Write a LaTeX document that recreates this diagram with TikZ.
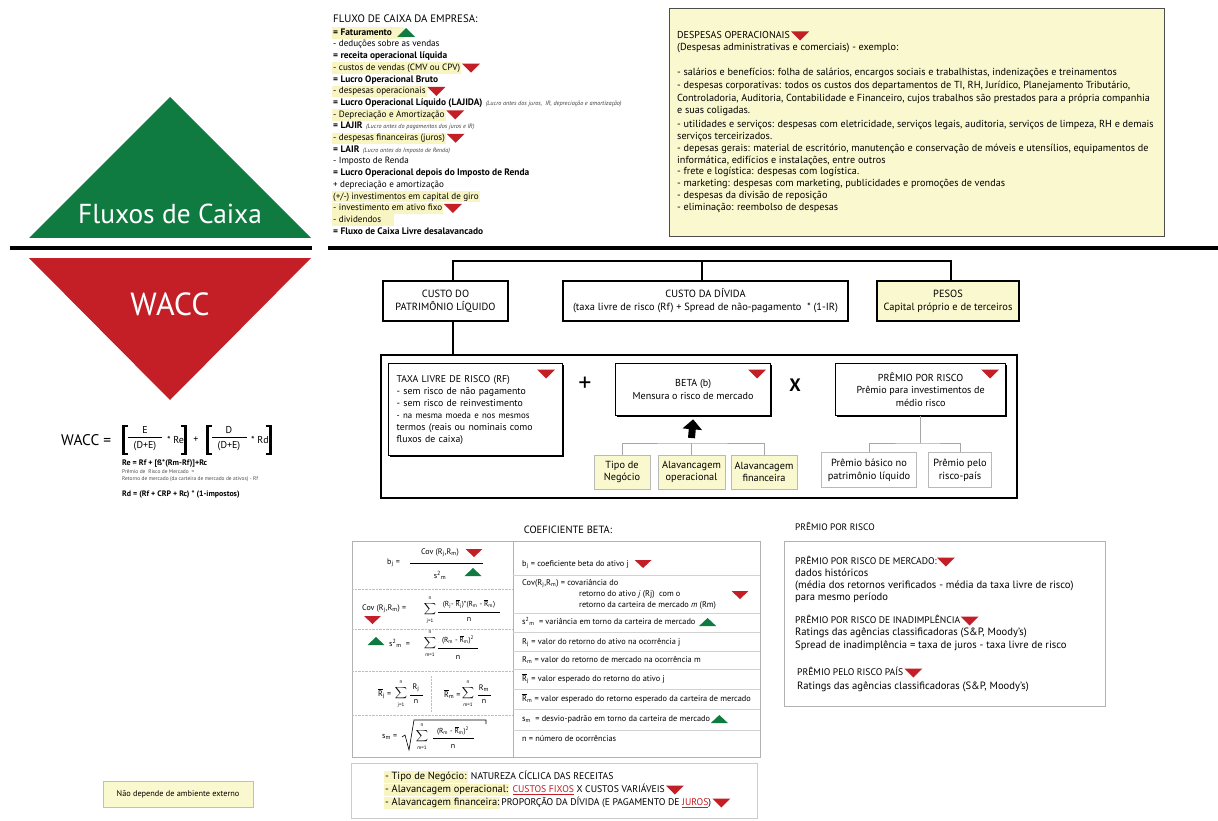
\documentclass[tikz,border=0pt]{standalone}
\usepackage{amsmath}
\usepackage{fontspec}
\setmainfont{PT Sans}
\usetikzlibrary{calc,arrows.meta,shadows}
\definecolor{wgreen}{RGB}{15,123,65}
\definecolor{wred}{RGB}{196,30,38}
\definecolor{ybox}{RGB}{250,248,206}
\definecolor{hlc}{RGB}{248,245,194}
\newcommand\fsz[1]{\fontsize{#1}{#1}\selectfont}
\newcommand\ovR{$\overline{\text{R}}$}
\begin{document}
\begin{tikzpicture}[x=1pt,y=-1pt,
  rdn/.pic={\fill[wred] (-9,-4.5) -- (9,-4.5) -- (0,4.5) -- cycle;},
  gup/.pic={\fill[wgreen] (-9,4.5) -- (9,4.5) -- (0,-4.5) -- cycle;},
  rdns/.pic={\fill[wred] (-8.5,-4) -- (8.5,-4) -- (0,4) -- cycle;},
  gups/.pic={\fill[wgreen] (-8.5,4) -- (8.5,4) -- (0,-4) -- cycle;},
  lst/.style={anchor=west, inner xsep=1pt, inner ysep=1.2pt, font=\fsz{9.1}, text height=6.8pt, text depth=2.2pt},
  lstb/.style={lst, font=\bfseries\fsz{9.4}},
  hlt/.style={fill=hlc},
  tny/.style={anchor=west, inner sep=0pt, text=black!75, font=\itshape\fsz{6.2}},
  ylst/.style={anchor=west, inner sep=0pt, font=\fsz{10.2}, text height=7pt, text depth=2.2pt},
  bx/.style={draw=black, line width=1.3pt, fill=white, align=center, inner sep=2pt, font=\fontsize{10.4}{13}\selectfont},
  sbx/.style={bx, general shadow={fill=black, shadow xshift=1.3pt, shadow yshift=-1.3pt}},
  tb/.style={draw=gray!55, line width=0.7pt, fill=ybox, align=center, inner sep=1pt, minimum height=34, font=\fontsize{10.3}{12.5}\selectfont},
  pb/.style={tb, fill=white, font=\fontsize{10.4}{12.5}\selectfont},
  treeln/.style={draw=gray!70, line width=0.8pt},
  conn/.style={draw=black, line width=1.3pt},
  fml/.style={inner sep=0pt, font=\fsz{8}},
  fmls/.style={inner sep=0pt, font=\fsz{7.3}},
  sml/.style={inner sep=0pt, font=\fsz{5}},
  sig/.style={inner sep=0pt, font=\fsz{8.5}},
  fracln/.style={line width=0.5pt},
  rc/.style={anchor=west, inner sep=0pt, font=\fsz{8.3}, text height=6pt, text depth=1.8pt},
  prt/.style={anchor=west, inner sep=0pt, font=\fsz{10.6}, text height=7pt, text depth=2.2pt},
  prth/.style={prt, font=\fsz{9.6}},
  btx/.style={anchor=west, inner xsep=1pt, inner ysep=1.2pt, font=\fsz{10.4}, text height=7pt, text depth=2.2pt},
  btc/.style={anchor=west, inner sep=0pt, font=\fsz{9.7}, text height=7pt, text depth=2.2pt}
]
\fill[white] (0,0) rectangle (1218,821);
\useasboundingbox (0,0) rectangle (1218,821);

% ---------- left triangles ----------
\fill[wgreen] (29,238) -- (311,238) -- (170,97) -- cycle;
\node[text=white, font=\fsz{27.4}, inner sep=0pt] (fc) at (170,214) {Fluxos de Caixa};
\fill[wred] (29,258) -- (311,258) -- (170,400) -- cycle;
\node[text=white, font=\fsz{32}, inner sep=0pt] (wc) at (170,304) {WACC};
\draw[line width=4.5pt] (10,248) -- (312,248);
\draw[line width=4.5pt] (328,248) -- (1218,248);

% ---------- cash flow list ----------
\node[lst, font=\fsz{10.8}] (t0) at (332,20) {FLUXO DE CAIXA DA EMPRESA:};
\node[lstb,hlt] (l0) at (332,33) {= Faturamento\kern11pt};
\pic at ($(l0.east)+(2,-0.5)$) {gup};
\node[lst] (l1) at (332,44.7) {- deduções sobre as vendas};
\node[lstb] (l2) at (332,56.4) {= receita operacional líquida};
\node[lst,hlt] (l3) at (332,68.1) {- custos de vendas (CMV ou CPV)};
\pic at ($(l3.east)+(9.5,0)$) {rdn};
\node[lstb] (l4) at (332,79.8) {= Lucro Operacional Bruto};
\node[lst,hlt] (l5) at (332,91.5) {- despesas operacionais};
\pic at ($(l5.east)+(9.5,0)$) {rdn};
\node[lstb] (l6) at (332,103.2) {= Lucro Operacional Líquido (LAJIDA)};
\node[tny] (c6) at ($(l6.east)+(2,0.5)$) {(Lucro antes dos juros,~ IR, depreciação e amortização)};
\node[lst,hlt] (l7) at (332,114.9) {- Depreciação e Amortização};
\pic at ($(l7.east)+(9.5,0)$) {rdn};
\node[lstb] (l8) at (332,126.6) {= LAJIR};
\node[tny] (c8) at ($(l8.east)+(2,0.5)$) {(Lucro antes do pagamentos dos juros e IR)};
\node[lst,hlt] (l9) at (332,138.3) {- despesas financeiras (juros)};
\pic at ($(l9.east)+(9.5,0)$) {rdn};
\node[lstb] (l10) at (332,150) {= LAIR};
\node[tny] (c10) at ($(l10.east)+(2,0.5)$) {(Lucro antes do Imposto de Renda)};
\node[lst] (l11) at (332,161.7) {- Imposto de Renda};
\node[lstb] (l12) at (332,173.4) {= Lucro Operacional depois do Imposto de Renda};
\node[lst] (l13) at (332,185.1) {+ depreciação e amortização};
\node[lst,hlt] (l14) at (332,196.8) {(+/-) investimentos em capital de giro};
\node[lst,hlt] (l15) at (332,208.5) {- investimento em ativo fixo};
\pic at ($(l15.east)+(9.5,0)$) {rdn};
\node[lst,hlt] (l16) at (332,220.2) {- dividendos\kern12pt};
\node[lstb] (l17) at (332,231.9) {= Fluxo de Caixa Livre desalavancado};

% ---------- despesas operacionais box ----------
\node[draw=black!70, fill=ybox, line width=0.8pt, minimum width=495, minimum height=228, anchor=north west, inner sep=0pt] (ybx) at (669,8) {};
\node[ylst, font=\fsz{10}] (y0) at (677,36) {DESPESAS OPERACIONAIS};
\pic at ($(y0.east)+(10,0)$) {rdn};
\node[ylst] (y1) at (677,48) {(Despesas administrativas e comerciais) - exemplo:};
\node[ylst] (y2) at (677,73) {- salários e benefícios: folha de salários, encargos sociais e trabalhistas, indenizações e treinamentos};
\node[ylst] (y3) at (677,86) {- despesas corporativas: todos os custos dos departamentos de TI, RH, Jurídico, Planejamento Tributário,};
\node[ylst] (y4) at (677,99) {Controladoria, Auditoria, Contabilidade e Financeiro, cujos trabalhos são prestados para a própria companhia};
\node[ylst] (y5) at (677,111) {e suas coligadas.};
\node[ylst] (y6) at (677,125) {- utilidades e serviços: despesas com eletricidade, serviços legais, auditoria, serviços de limpeza, RH e demais};
\node[ylst] (y7) at (677,137) {serviços terceirizados.};
\node[ylst] (y8) at (677,149) {- depesas gerais: material de escritório, manutenção e conservação de móveis e utensílios, equipamentos de};
\node[ylst] (y9) at (677,161) {informática, edifícios e instalações, entre outros};
\node[ylst] (y10) at (677,172) {- frete e logística: despesas com logística.};
\node[ylst] (y11) at (677,184) {- marketing: despesas com marketing, publicidades e promoções de vendas};
\node[ylst] (y12) at (677,196) {- despesas da divisão de reposição};
\node[ylst] (y13) at (677,208) {- eliminação: reembolso de despesas};

% ---------- WACC components ----------
\node[bx, minimum width=125, minimum height=40] (cpl) at (445.5,301) {CUSTO DO\\PATRIMÔNIO LÍQUIDO};
\node[bx, minimum width=285, minimum height=40] (cdd) at (705.5,301) {CUSTO DA DÍVIDA\\(taxa livre de risco (Rf) + Spread de não-pagamento~~* (1-IR)};
\node[bx, fill=ybox, minimum width=142, minimum height=40] (pes) at (948,301) {PESOS\\Capital próprio e de terceiros};
\coordinate (vL) at (453,261);
\coordinate (vM) at (702,261);
\coordinate (vR) at (951,261);
\draw[conn] (vL |- cpl.north) -- (vL) -- (vR) -- (vR |- pes.north);
\draw[conn] (vM) -- (vM |- cdd.north);

\node[draw=black, line width=1.5pt, minimum width=636, minimum height=143, anchor=north west, inner sep=0pt] (big) at (380,354) {};
\draw[conn] (vL |- cpl.south) -- (vL |- big.north);

\node[sbx, anchor=north west, minimum width=174, minimum height=92, text width=158, align=left, font=\fontsize{9.8}{12}\selectfont] (rf) at (388,363)
  {TAXA LIVRE DE RISCO (RF)\\- sem risco de não pagamento\\- sem risco de reinvestimento\\{\fontsize{8.8}{12}\selectfont - na mesma moeda e nos mesmos}\\termos (reais ou nominais como\\fluxos de caixa)};
\pic at (546,374) {rdn};
\node[inner sep=0pt, font=\fsz{26}] (plus) at (585,384) {+};
\node[sbx, anchor=north west, minimum width=155, minimum height=52, font=\fontsize{10.1}{13.5}\selectfont] (beta) at (615,363) {BETA (b)\\Mensura o risco de mercado};
\pic at (757,374) {rdn};
\node[inner sep=0pt, font=\bfseries\fsz{18}] (times) at (795,385) {X};
\node[sbx, anchor=north west, minimum width=170, minimum height=52, font=\fontsize{10.1}{12.5}\selectfont] (pr) at (835,363) {PRÊMIO POR RISCO\\Prêmio para investimentos de\\médio risco};
\pic at (990,374) {rdn};

\node[tb, minimum width=56] (tn) at (622,472) {Tipo de\\Negócio};
\node[tb, minimum width=67] (ao) at (691.5,472) {Alavancagem\\operacional};
\node[tb, minimum width=66] (af) at (764,472) {Alavancagem\\financeira};
\coordinate (tj) at (691.5,443);
\draw[treeln] (tn.north) |- (tj) -| (af.north);
\draw[treeln] (ao.north) -- (ao.north |- tj);
\coordinate (ab) at (691.5,438);
\draw[line width=7pt, -{Triangle[width=19pt,length=10pt]}] (ab) -- ($(beta.south)+(0,3)$);

\node[pb, minimum width=95, minimum height=35] (pb1) at (869,470) {Prêmio básico no\\patrimônio líquido};
\node[pb, minimum width=63, minimum height=35] (pb2) at (960,470) {Prêmio pelo\\risco-país};
\coordinate (pj) at (pr.south |- tj);
\draw[treeln] (pr.south) -- (pj);
\draw[treeln] (pb1.north) |- (pj) -| (pb2.north);

% ---------- WACC formula ----------
\node[anchor=west, inner sep=0pt, font=\fsz{15.4}] (wf) at (61,440) {WACC =};
\draw[line width=2.4pt] (128,426) -- (123.5,426) -- (123.5,454) -- (128,454);
\node[inner sep=0pt, font=\fsz{10}] (e1) at (145,430) {E};
\draw[fracln] (128,437) -- (162,437);
\node[inner sep=0pt, font=\fsz{10}] (de1) at (145,446) {(D+E)};
\node[anchor=west, inner sep=0pt, font=\fsz{10}] (re) at (167,440) {* Re};
\draw[line width=2.4pt] (181,426) -- (185.5,426) -- (185.5,454) -- (181,454);
\node[inner sep=0pt, font=\fsz{10}] (pl) at (196,440) {+};
\draw[line width=2.4pt] (212,426) -- (207.5,426) -- (207.5,454) -- (212,454);
\node[inner sep=0pt, font=\fsz{10}] (d1) at (229,430) {D};
\draw[fracln] (212,437) -- (247,437);
\node[inner sep=0pt, font=\fsz{10}] (de2) at (229,446) {(D+E)};
\node[anchor=west, inner sep=0pt, font=\fsz{10}] (rd) at (251,440) {* Rd};
\draw[line width=2.4pt] (266,426) -- (270.5,426) -- (270.5,454) -- (266,454);
\node[anchor=west, inner sep=0pt, font=\bfseries\fsz{8}] (req) at (122,463) {Re = Rf + [ß*(Rm-Rf)]+Rc};
\node[anchor=west, inner sep=0pt, text=black!70, font=\fsz{5.4}] (pm1) at (122,472) {Prêmio de~ Risco de Mercado~ =};
\node[anchor=west, inner sep=0pt, text=black!70, font=\fsz{5.4}] (pm2) at (122,479) {Retorno de mercado (da carteira de mercado de ativos) - Rf};
\node[anchor=west, inner sep=0pt, font=\bfseries\fsz{7.9}] (rdq) at (122,494) {Rd = (Rf + CRP + Rc) * (1-impostos)};

% ---------- beta table ----------
\node[inner sep=0pt, font=\fsz{10.5}] (cbt) at (568,530) {COEFICIENTE BETA:};
\draw[gray!60, line width=0.8pt] (352,541) rectangle (760,757);
\draw[gray!60, line width=0.8pt] (513,541) -- (513,757);
\foreach \yy in {589,629,671,715} \draw[gray!50, densely dotted] (352,\yy) -- (513,\yy);
\foreach \yy in {575,613,632,651,669,689,709,730} \draw[gray!35, line width=0.6pt] (513,\yy) -- (760,\yy);

% row 1
\node[fml, anchor=west] (b1) at (387,563) {b\textsubscript{j} =};
\node[fml] (b1n) at (440,553) {Cov (R\textsubscript{j},R\textsubscript{m})};
\draw[fracln] (410,563) -- (483,563);
\node[fml] (b1d) at (440,575) {s\textsuperscript{2}\textsubscript{m}};
\pic at (474,553) {rdns};
\pic at (473,572) {gups};
% row 2
\node[fml, anchor=west] (c2) at (362,609) {Cov (R\textsubscript{j},R\textsubscript{m}) =};
\pic at (372.5,620) {rdns};
\node[sig] (s2) at (430,609) {$\displaystyle\sum$};
\node[sml] (s2n) at (430,598) {n};
\node[sml] (s2j) at (430,621) {j=1};
\node[fmls] (c2n) at (469,604) {(R\textsubscript{j}- \ovR\textsubscript{j})*(R\textsubscript{m} - \ovR\textsubscript{m})};
\draw[fracln] (438,612) -- (500,612);
\node[fml] (c2d) at (469,619) {n};
% row 3
\pic at (376,641) {gups};
\node[fml, anchor=west] (s3) at (389,643) {s\textsuperscript{2}\textsubscript{m}~ =};
\node[sig] (s3s) at (430,643) {$\displaystyle\sum$};
\node[sml] (s3n) at (430,632) {n};
\node[sml] (s3m) at (430,655) {m=1};
\node[fmls] (s3u) at (458,640) {(R\textsubscript{m} - \ovR\textsubscript{m})\textsuperscript{2}};
\draw[fracln] (438,648) -- (478,648);
\node[fml] (s3d) at (458,657) {n};
% row 4
\node[fml, anchor=west] (r4a) at (378,694) {\ovR\textsubscript{j} =};
\node[sig] (r4s) at (401,693) {$\displaystyle\sum$};
\node[sml] (r4n) at (401,682) {n};
\node[sml] (r4j) at (401,705) {j=1};
\node[fml] (r4u) at (416,688) {R\textsubscript{j}};
\draw[fracln] (410,695) -- (423,695);
\node[fml] (r4d) at (416,701) {n};
\draw[gray!50, densely dotted] (431,676) -- (431,712);
\node[fml, anchor=west] (r4b) at (444,694) {\ovR\textsubscript{m} =};
\node[sig] (r4s2) at (468,693) {$\displaystyle\sum$};
\node[sml] (r4n2) at (468,682) {n};
\node[sml] (r4m2) at (468,705) {m=1};
\node[fml] (r4u2) at (484,688) {R\textsubscript{m}};
\draw[fracln] (478,695) -- (491,695);
\node[fml] (r4d2) at (484,701) {n};
% row 5
\node[fml, anchor=west] (s5) at (382,737) {s\textsubscript{m} =};
\draw[line width=0.6pt] (402,737) -- (405,735) -- (409,750) -- (414,720) -- (486,720) -- (486,724);
\node[sig] (s5s) at (422,736) {$\displaystyle\sum$};
\node[sml] (s5n) at (422,725) {n};
\node[sml] (s5m) at (422,748) {m=1};
\node[fmls] (s5u) at (453,731) {(R\textsubscript{m} - \ovR\textsubscript{m})\textsuperscript{2}};
\draw[fracln] (433,738) -- (474,738);
\node[fml] (s5d) at (453,746) {n};

% right column
\node[rc] (d1r) at (522,564) {b\textsubscript{j} = coeficiente beta do ativo j};
\pic at ($(d1r.east)+(14,0)$) {rdns};
\node[rc] (d2r) at (522,583) {Cov(R\textsubscript{j},R\textsubscript{m}) = covariância do};
\node[rc] (d3r) at (579,594) {retorno do ativo \textit{j} (Rj)~ com o};
\node[rc] (d4r) at (579,605) {retorno da carteira de mercado \textit{m} (Rm)};
\pic at (740,595) {rdns};
\node[rc] (d5r) at (522,622) {s\textsuperscript{2}\textsubscript{m}~ = variância em torno da carteira de mercado};
\pic at ($(d5r.east)+(12,0)$) {gups};
\node[rc] (d6r) at (522,642) {R\textsubscript{j} = valor do retorno do ativo na ocorrência j};
\node[rc] (d7r) at (522,660) {R\textsubscript{m} = valor do retorno de mercado na ocorrência m};
\node[rc] (d8r) at (522,679) {\ovR\textsubscript{j} = valor esperado do retorno do ativo j};
\node[rc] (d9r) at (522,699) {\ovR\textsubscript{m} = valor esperado do retorno esperado da carteira de mercado};
\node[rc] (d10r) at (522,719) {s\textsubscript{m}~ = desvio-padrão em torno da carteira de mercado};
\pic at ($(d10r.east)+(9,0)$) {gups};
\node[rc] (d11r) at (522,739) {n = número de ocorrências};

% ---------- premio por risco ----------
\node[prth, font=\fsz{9.4}] (pr0) at (795,528) {PRÊMIO POR RISCO};
\draw[gray!60, line width=0.8pt] (784,541) rectangle (1105,706);
\node[prth] (pr1) at (795,562) {PRÊMIO POR RISCO DE MERCADO:};
\pic at ($(pr1.east)+(9,0)$) {rdn};
\node[prt] (pr2) at (795,574) {dados históricos};
\node[prt] (pr3) at (795,586) {(média dos retornos verificados - média da taxa livre de risco)};
\node[prt] (pr4) at (795,598) {para mesmo período};
\node[prth] (pr5) at (795,621) {PRÊMIO POR RISCO DE INADIMPLÊNCIA};
\pic at ($(pr5.east)+(9,0)$) {rdn};
\node[prt] (pr6) at (795,633) {Ratings das agências classificadoras (S\&P, Moody’s)};
\node[prt] (pr7) at (795,646) {Spread de inadimplência = taxa de juros - taxa livre de risco};
\node[prth] (pr8) at (797,673) {PRÊMIO PELO RISCO PAÍS};
\node[prt] (pr9) at (797,687) {Ratings das agências classificadoras (S\&P, Moody’s)};
\pic at ($(pr8.east)+(10,0)$) {rdn};

% ---------- bottom box ----------
\draw[gray!40, line width=0.8pt] (351,763) rectangle (757,818);
\node[btx,hlt] (bt1) at (384,777) {- Tipo de Negócio:};
\node[btc] (bc1) at ($(bt1.east)+(3,0)$) {NATUREZA CÍCLICA DAS RECEITAS};
\node[btx,hlt] (bt2) at (384,790) {- Alavancagem operacional:};
\node[btc] (bc2) at ($(bt2.east)+(3,0)$) {\textcolor{wred}{\underline{CUSTOS FIXOS}} X CUSTOS VARIÁVEIS};
\pic at ($(bc2.east)+(10,0)$) {rdn};
\node[btx,hlt] (bt3) at (384,803) {- Alavancagem financeira:};
\node[btc] (bc3) at ($(bt3.east)+(0.5,0)$) {PROPORÇÃO DA DÍVIDA (E PAGAMENTO DE \textcolor{wred}{\underline{JUROS}})};
\pic at ($(bc3.east)+(10,0)$) {rdn};

% ---------- note ----------
\node[draw=gray!50, fill=ybox, line width=0.6pt, minimum width=150, minimum height=26, inner sep=0pt, font=\fsz{8.3}] (nd) at (178,794) {Não depende de ambiente externo};
\end{tikzpicture}
\end{document}
